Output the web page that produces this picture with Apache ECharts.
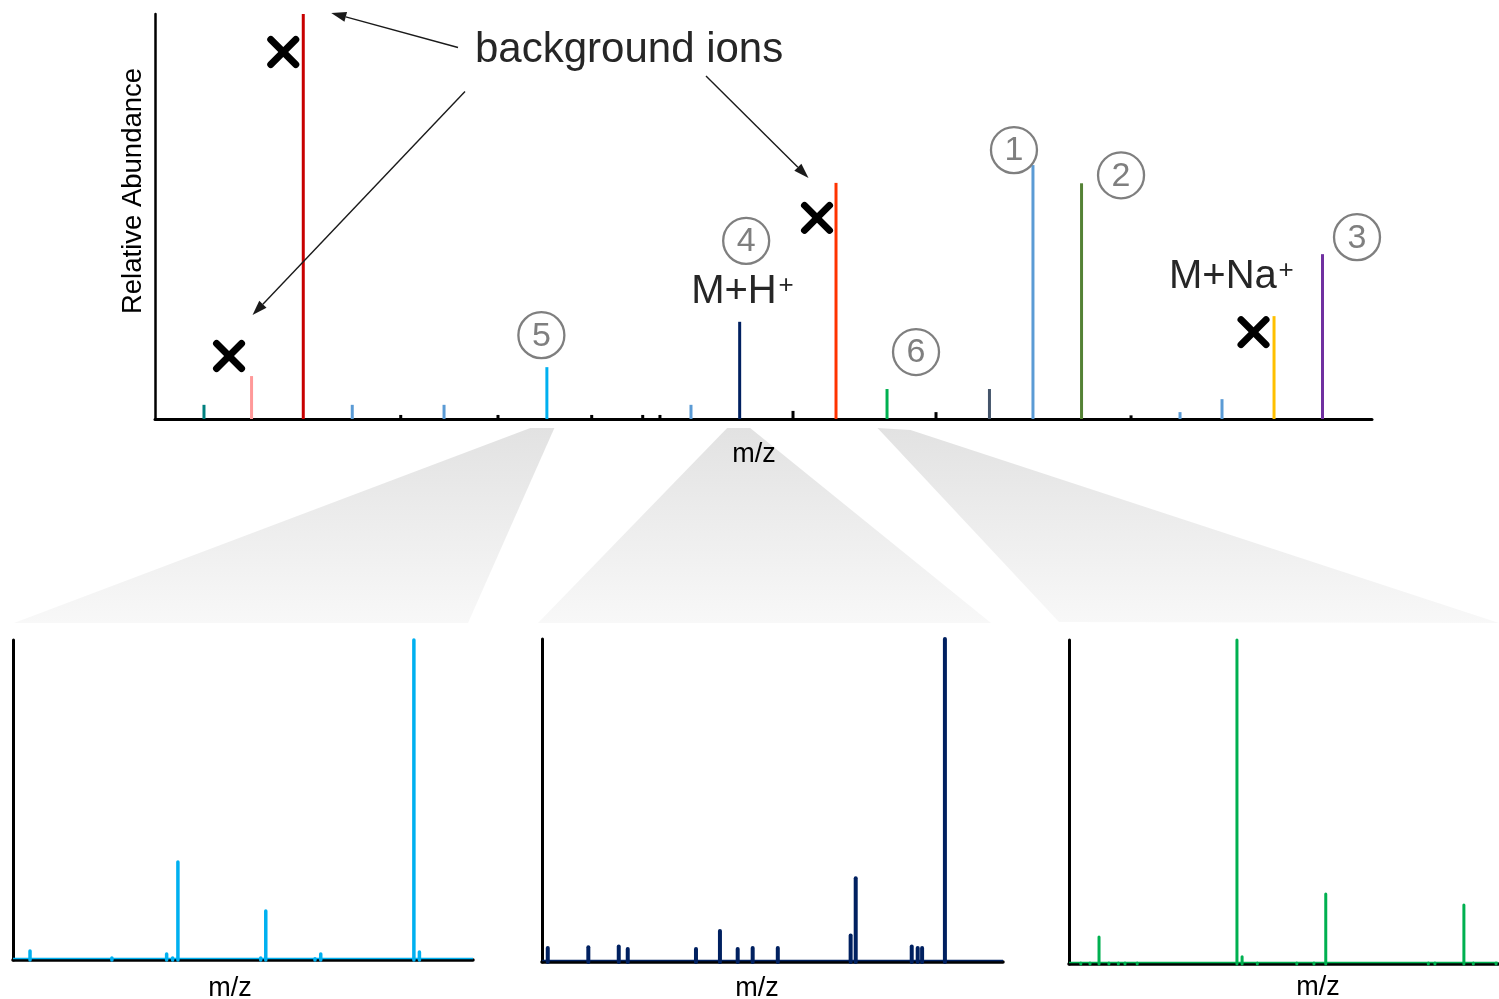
<!DOCTYPE html>
<html>
<head>
<meta charset="utf-8">
<script src="https://cdn.jsdelivr.net/npm/echarts@6/dist/echarts.min.js"></script>
<style>
html, body { margin: 0; padding: 0; background: #ffffff; }
#chart { width: 1499px; height: 999px; }
</style>
</head>
<body>
<div id="chart"></div>
<script>
// Full-scan spectrum: peak m/z and relative abundance (%)
const fullMz = [198.3, 245.2, 296.2, 344.5, 435.0, 536.4, 678.5, 726.5, 821.5, 871.8, 972.8, 1015.7, 1063.6, 1160.7, 1202.1, 1253.4, 1301.2];
const fullAbundance = [3.5, 10.6, 100, 3.5, 3.5, 12.8, 3.5, 24.0, 58.3, 7.4, 7.4, 62.7, 58.2, 1.7, 4.9, 25.4, 40.7];

// Small unassigned signals on the baseline
const minorMz = [392.3, 488.2, 580.6, 630.9, 647.9, 779.1, 920.1, 1112.4];
const minorAbundance = [1.0, 1.0, 1.0, 1.0, 1.0, 2.0, 1.7, 0.9];

// Expanded window around peak 5
const zoom5Mz = [519.74, 523.30, 525.68, 525.94, 526.17, 529.77, 529.99, 532.13, 532.38, 536.43, 536.67];
const zoom5Abundance = [2.8, 0.6, 1.9, 0.6, 30.6, 0.6, 15.3, 0.4, 1.9, 100, 2.5];

// Expanded window around peak 4 (M+H+)
const zoom4Mz = [709.25, 711.01, 712.33, 712.72, 715.68, 716.72, 717.49, 718.14, 719.23, 722.39, 722.61, 725.04, 725.30, 725.49, 726.48];
const zoom4Abundance = [4.3, 4.6, 4.8, 4.0, 4.0, 9.6, 4.0, 4.3, 4.3, 8.2, 25.9, 4.8, 4.3, 4.3, 100];

// Expanded window around peak 6
const zoom6Mz = [864.55, 864.98, 865.40, 865.86, 866.30, 866.61, 867.18, 871.83, 872.07, 872.78, 874.62, 875.42, 875.97, 880.75, 881.06, 882.41, 882.85, 883.91];
const zoom6Abundance = [0.3, 0.3, 8.3, 0.3, 0.3, 0.3, 0.3, 100, 2.2, 0.3, 0.3, 0.3, 21.6, 0.3, 0.3, 18.2, 0.3, 0.3];

// m/z windows of the three expanded panels
const zoomRanges = [[519, 539], [709, 729], [864, 884]];

// Peak numbering and the peak each number belongs to
const circledLabels = ['1', '2', '3', '4', '5', '6'];
const circledPeak = [11, 12, 16, 7, 5, 9];
// Background ions that are struck out
const backgroundPeak = [2, 1, 8, 15];

// Colours
const fullColors = ['#00807f', '#ff9999', '#c80000', '#5b9bd5', '#5b9bd5', '#00b0f0', '#5b9bd5', '#002060',
  '#ff3300', '#00b050', '#44546a', '#5b9bd5', '#548235', '#5b9bd5', '#5b9bd5', '#ffc000', '#7030a0'];
const zoomColors = ['#00b0f0', '#002060', '#00b050'];

const FONT = '"Liberation Sans", Arial, Helvetica, sans-serif';

function stickSeries(gridIdx, mz, ab, colorOf, width, cap) {
  return {
    type: 'custom',
    xAxisIndex: gridIdx,
    yAxisIndex: gridIdx,
    silent: true,
    z: 3,
    data: mz.map((m, i) => ({ value: [m, ab[i]], itemStyle: { color: colorOf(i) } })),
    renderItem: function (params, api) {
      const b = api.coord([api.value(0), 0]);
      const t = api.coord([api.value(0), api.value(1)]);
      return {
        type: 'line',
        shape: { x1: b[0], y1: b[1], x2: t[0], y2: t[1] },
        style: { stroke: api.visual('color'), lineWidth: width, lineCap: cap }
      };
    }
  };
}

// Thin spectrum trace running along the baseline of an expanded panel
function traceSeries(gridIdx, range, color) {
  return {
    type: 'custom',
    xAxisIndex: gridIdx,
    yAxisIndex: gridIdx,
    silent: true,
    z: 4,
    data: [[range[0], range[1]]],
    renderItem: function (params, api) {
      const a = api.coord([api.value(0), 0]);
      const b = api.coord([api.value(1), 0]);
      return {
        type: 'line',
        shape: { x1: a[0], y1: a[1] - 1.5, x2: b[0], y2: b[1] - 1.5 },
        style: { stroke: color, lineWidth: 1.4 }
      };
    }
  };
}

function xAxisFor(gridIdx, min, max, lw, gap, pad) {
  return {
    type: 'value', gridIndex: gridIdx, min: min, max: max,
    axisLine: { show: true, onZero: false, lineStyle: { color: '#000', width: lw } },
    axisTick: { show: false }, axisLabel: { show: false }, splitLine: { show: false },
    name: 'm/z', nameLocation: 'middle', nameGap: gap,
    nameTextStyle: { color: '#000', fontSize: 27, fontFamily: FONT, padding: pad }
  };
}
function yAxisFor(gridIdx, lw, extra) {
  return Object.assign({
    type: 'value', gridIndex: gridIdx, min: 0, max: 100,
    axisLine: { show: true, lineStyle: { color: '#000', width: lw } },
    axisTick: { show: false }, axisLabel: { show: false }, splitLine: { show: false }
  }, extra || {});
}

const chart = echarts.init(document.getElementById('chart'), null, { renderer: 'canvas' });

const option = {
  animation: false,
  backgroundColor: '#ffffff',
  grid: [
    { left: 155, top: 14, width: 1217, height: 405, outerBoundsMode: 'none', containLabel: false },
    { left: 13, top: 640, width: 460, height: 320, outerBoundsMode: 'none', containLabel: false },
    { left: 542, top: 639, width: 461, height: 323, outerBoundsMode: 'none', containLabel: false },
    { left: 1069, top: 640, width: 429, height: 324, outerBoundsMode: 'none', containLabel: false }
  ],
  xAxis: [
    xAxisFor(0, 150, 1350, 3, 22, [0, 19, 0, 0]),
    xAxisFor(1, zoomRanges[0][0], zoomRanges[0][1], 3.5, 15, [0, 26, 0, 0]),
    xAxisFor(2, zoomRanges[1][0], zoomRanges[1][1], 3.5, 13, [0, 31, 0, 0]),
    xAxisFor(3, zoomRanges[2][0], zoomRanges[2][1], 3.5, 10, [0, 0, 0, 69])
  ],
  yAxis: [
    yAxisFor(0, 2.5, {
      name: 'Relative Abundance', nameLocation: 'middle', nameGap: 8,
      nameTextStyle: { color: '#000', fontSize: 27.5, fontFamily: FONT, padding: [0, 0, 0, 51] }
    }),
    yAxisFor(1, 3),
    yAxisFor(2, 3),
    yAxisFor(3, 3)
  ],
  series: [
    stickSeries(0, fullMz, fullAbundance, i => fullColors[i], 3, 'butt'),
    stickSeries(0, minorMz, minorAbundance, () => '#000000', 3, 'butt'),
    traceSeries(1, zoomRanges[0], zoomColors[0]),
    traceSeries(2, zoomRanges[1], zoomColors[1]),
    traceSeries(3, zoomRanges[2], zoomColors[2]),
    stickSeries(1, zoom5Mz, zoom5Abundance, () => zoomColors[0], 3.5, 'round'),
    stickSeries(2, zoom4Mz, zoom4Abundance, () => zoomColors[1], 4, 'round'),
    stickSeries(3, zoom6Mz, zoom6Abundance, () => zoomColors[2], 3, 'round')
  ]
};
chart.setOption(option);

// ---- annotations, placed relative to the peaks they refer to ----
const peakTop = i => chart.convertToPixel({ gridIndex: 0 }, [fullMz[i], fullAbundance[i]]);
const baseY = chart.convertToPixel({ gridIndex: 0 }, [150, 0])[1];
const gridRect = k => chart.getModel().getComponent('grid', k).coordinateSystem.getRect();

const g = [];
const funnelFill = new echarts.graphic.LinearGradient(0, 0, 0, 1, [
  { offset: 0, color: '#e2e2e2' }, { offset: 1, color: '#f8f8f8' }
]);
function funnel(pts) {
  g.push({ type: 'polygon', z: -10, silent: true, shape: { points: pts }, style: { fill: funnelFill } });
}
const r1 = gridRect(1), r2 = gridRect(2), r3 = gridRect(3);
const p5 = peakTop(5)[0], p4 = peakTop(7)[0], p6 = peakTop(9)[0];
const fy = baseY + 9;
funnel([[p5 - 16.5, fy], [p5 + 7.5, fy], [r1.x + r1.width - 5, r1.y - 17], [r1.x + 1, r1.y - 17]]);
funnel([[p4 - 12.5, fy], [p4 + 10.5, fy], [r2.x + r2.width - 12, r2.y - 16], [r2.x - 4, r2.y - 16]]);
funnel([[p6 - 9.5, fy], [p6 + 23.5, fy + 2], [r3.x + r3.width + 1, r3.y - 17], [r3.x - 10, r3.y - 18]]);

// circled peak numbers
const circleOffsets = [[-19, -15], [39.5, -8], [34.5, -17], [6.5, -81], [-5.5, -32], [29, -37]];
circledLabels.forEach((lab, k) => {
  const p = peakTop(circledPeak[k]);
  const cx = p[0] + circleOffsets[k][0], cy = p[1] + circleOffsets[k][1];
  g.push({ type: 'circle', z: 50, silent: true, shape: { cx: cx, cy: cy, r: 23 },
    style: { fill: 'none', stroke: '#7f7f7f', lineWidth: 2.3 } });
  g.push({ type: 'text', z: 51, silent: true, x: cx, y: cy + 1,
    style: { text: lab, fontSize: 34, fontFamily: FONT, fill: '#7f7f7f', align: 'center', verticalAlign: 'middle' } });
});

// crosses over background ions
const crossOffsets = [[-20, 38], [-22.5, -20], [-19, 35], [-20.5, 16]];
backgroundPeak.forEach((idx, k) => {
  const p = peakTop(idx);
  const cx = p[0] + crossOffsets[k][0], cy = p[1] + crossOffsets[k][1], h = 12.5;
  const st = { stroke: '#000', lineWidth: 7, lineCap: 'round' };
  g.push({ type: 'line', z: 60, silent: true, shape: { x1: cx - h, y1: cy - h, x2: cx + h, y2: cy + h }, style: st });
  g.push({ type: 'line', z: 60, silent: true, shape: { x1: cx - h, y1: cy + h, x2: cx + h, y2: cy - h }, style: st });
});

// adduct labels
function adduct(idx, dx, dy, main, supDx) {
  const p = peakTop(idx);
  const x = p[0] + dx, y = p[1] + dy;
  g.push({ type: 'text', z: 55, silent: true, x: x, y: y,
    style: { text: main, fontSize: 40, fontFamily: FONT, fill: '#262626', align: 'left', verticalAlign: 'middle' } });
  g.push({ type: 'text', z: 55, silent: true, x: x + supDx, y: y - 6,
    style: { text: '+', fontSize: 26, fontFamily: FONT, fill: '#262626', align: 'center', verticalAlign: 'middle' } });
}
adduct(7, -48.5, -29.5, 'M+H', 95);
adduct(15, -105, -39.3, 'M+Na', 117);

// "background ions" callout
const tx = 475, ty = 50;
g.push({ type: 'text', z: 55, silent: true, x: tx, y: ty,
  style: { text: 'background ions', fontSize: 42, fontFamily: FONT, fill: '#262626', align: 'left', verticalAlign: 'middle' } });
function arrow(x1, y1, x2, y2) {
  const a = Math.atan2(y2 - y1, x2 - x1), L = 15, W = 5;
  const bx = x2 - L * Math.cos(a), by = y2 - L * Math.sin(a);
  const nx = -Math.sin(a), ny = Math.cos(a);
  g.push({ type: 'line', z: 40, silent: true, shape: { x1: x1, y1: y1, x2: bx, y2: by },
    style: { stroke: '#1a1a1a', lineWidth: 1.4 } });
  g.push({ type: 'polygon', z: 40, silent: true,
    shape: { points: [[x2, y2], [bx + nx * W, by + ny * W], [bx - nx * W, by - ny * W]] },
    style: { fill: '#1a1a1a' } });
}
let e = peakTop(2); arrow(tx - 17, ty - 2.5, e[0] + 28, e[1] - 1);
e = peakTop(1); arrow(tx - 10, ty + 41.5, e[0] + 1, e[1] - 61);
e = peakTop(8); arrow(tx + 231, ty + 26, e[0] - 27.5, e[1] - 5);

chart.setOption({ graphic: { elements: g } });
</script>
</body>
</html>
